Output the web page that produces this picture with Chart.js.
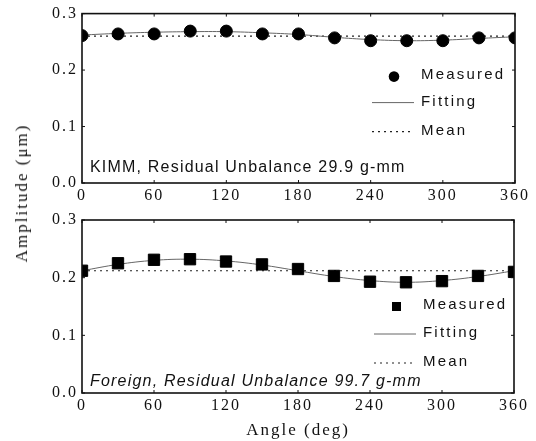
<!DOCTYPE html>
<html>
<head>
<meta charset="utf-8">
<script src="https://cdn.jsdelivr.net/npm/chart.js@4"></script>
<style>
  body { margin: 0; background: #fff; }
  #wrap { position: relative; width: 536px; height: 441px; overflow: hidden; }
  #top { position: absolute; left: 0; top: 0; }
  #bot { position: absolute; left: 0; top: 205px; }
  #ytitle {
    position: absolute; left: 22px; top: 193px;
    transform: translate(-50%, -50%) rotate(-90deg);
    font: 17px "Liberation Serif", serif; letter-spacing: 2px;
    white-space: nowrap; color: #111;
  }
</style>
</head>
<body>
<div id="wrap">
  <canvas id="top" width="536" height="210"></canvas>
  <canvas id="bot" width="536" height="236"></canvas>
  <div id="ytitle">Amplitude (μm)</div>
</div>
<script>
// angles (deg)
const angles = [0, 30, 60, 90, 120, 150, 180, 210, 240, 270, 300, 330, 360];
const xTicks = [0, 60, 120, 180, 240, 300, 360];
const yTicks = [0.0, 0.1, 0.2, 0.3];

// KIMM rotor
const kimmMeasured = [0.261, 0.264, 0.264, 0.269, 0.269, 0.264, 0.264, 0.257, 0.252, 0.252, 0.252, 0.257, 0.257];
const kimmFitting  = [0.262, 0.265, 0.267, 0.268, 0.268, 0.266, 0.263, 0.258, 0.254, 0.252, 0.253, 0.256, 0.259];
const kimmMean = 0.260;

// Foreign rotor
const forMeasured = [0.212, 0.225, 0.231, 0.232, 0.228, 0.223, 0.215, 0.203, 0.193, 0.192, 0.194, 0.203, 0.210];
const forFitting  = [0.212, 0.223, 0.230, 0.232, 0.229, 0.222, 0.212, 0.202, 0.195, 0.192, 0.195, 0.202, 0.212];
const forMean = 0.212;

const legendLabels = ['Measured', 'Fitting', 'Mean'];
const sans = '"Liberation Sans", Arial, sans-serif';
const serif = '"Liberation Serif", "Times New Roman", serif';

// caja, marcas internas, leyenda y texto del rotor
const framePlugin = {
  id: 'frame',
  beforeDraw(chart) {
    // etiquetas de ejes espaciadas como en el original
    chart.ctx.letterSpacing = '2px';
  },
  afterDraw(chart, args, opts) {
    const { ctx, chartArea: a, scales } = chart;
    ctx.save();
    ctx.strokeStyle = '#111';
    ctx.lineWidth = 1.6;
    ctx.strokeRect(a.left, a.top, a.right - a.left, a.bottom - a.top);
    ctx.lineWidth = 1;
    xTicks.forEach(v => {
      const x = scales.x.getPixelForValue(v);
      ctx.beginPath();
      ctx.moveTo(x, a.bottom); ctx.lineTo(x, a.bottom - 3);
      ctx.moveTo(x, a.top); ctx.lineTo(x, a.top + 3);
      ctx.stroke();
    });
    yTicks.forEach(v => {
      const y = scales.y.getPixelForValue(v);
      ctx.beginPath();
      ctx.moveTo(a.left, y); ctx.lineTo(a.left + 3, y);
      ctx.moveTo(a.right, y); ctx.lineTo(a.right - 3, y);
      ctx.stroke();
    });

    // leyenda
    const ds = chart.data.datasets;
    ctx.font = '15px ' + sans;
    ctx.letterSpacing = '2.2px';
    ctx.fillStyle = '#111';
    ctx.textAlign = 'left';
    ctx.textBaseline = 'middle';
    const tx = a.left + opts.legendX;
    opts.legendY.forEach((dy, i) => {
      const y = a.top + dy;
      ctx.fillText(legendLabels[i], tx, y);
      if (i === 0) {
        ctx.fillStyle = '#000';
        ctx.beginPath();
        if (ds[0].pointStyle === 'rect') {
          ctx.fillRect(tx - 31, y - 3, 9, 9);
        } else {
          ctx.arc(tx - 27, y + 2, 5.3, 0, Math.PI * 2);
          ctx.fill();
        }
        ctx.fillStyle = '#111';
      } else {
        const d = ds[i];
        ctx.strokeStyle = d.borderColor;
        ctx.lineWidth = d.borderWidth;
        ctx.setLineDash(d.borderDash || []);
        ctx.beginPath();
        ctx.moveTo(tx - 49, y + 1); ctx.lineTo(tx - 7, y + 1);
        ctx.stroke();
        ctx.setLineDash([]);
      }
    });

    // texto del rotor
    ctx.font = opts.noteFont;
    ctx.letterSpacing = '1.2px';
    ctx.fillText(opts.note, a.left + 8, a.bottom - opts.noteDy);
    ctx.restore();
  }
};

function makeChart(id, measured, fitting, mean, cfg) {
  return new Chart(document.getElementById(id), {
    type: 'line',
    data: {
      datasets: [
        {
          label: 'Measured',
          data: angles.map((a, i) => ({ x: a, y: measured[i] })),
          showLine: false,
          pointStyle: cfg.pointStyle,
          pointRadius: cfg.pointRadius,
          pointBackgroundColor: '#000',
          pointBorderColor: '#000',
          order: 0
        },
        {
          label: 'Fitting',
          data: angles.map((a, i) => ({ x: a, y: fitting[i] })),
          borderColor: '#666',
          borderWidth: 1,
          tension: 0.4,
          pointRadius: 0,
          order: 1
        },
        {
          label: 'Mean',
          data: [{ x: 0, y: mean }, { x: 360, y: mean }],
          borderColor: '#222',
          borderWidth: 1.2,
          borderDash: [2, 4],
          pointRadius: 0,
          order: 2
        }
      ]
    },
    options: {
      responsive: false,
      animation: false,
      events: [],
      layout: { padding: { top: cfg.padTop, right: cfg.padRight, left: 0, bottom: 0 } },
      plugins: {
        legend: { display: false },
        tooltip: { enabled: false },
        frame: cfg.frame
      },
      scales: {
        x: {
          type: 'linear',
          min: 0, max: 360,
          afterBuildTicks: s => { s.ticks = xTicks.map(v => ({ value: v })); },
          afterFit: s => { s.height = cfg.xHeight; },
          grid: { display: false, drawTicks: false },
          border: { display: false },
          ticks: {
            color: '#111',
            font: { family: serif, size: 16 },
            padding: 3,
            maxRotation: 0
          },
          title: {
            display: cfg.xTitle,
            text: 'Angle (deg)',
            color: '#111',
            font: { family: serif, size: 17 },
            padding: { top: 0, bottom: 0 }
          }
        },
        y: {
          min: 0, max: 0.3,
          afterBuildTicks: s => { s.ticks = yTicks.map(v => ({ value: v })); },
          afterFit: s => { s.width = 82; },
          grid: { display: false, drawTicks: false },
          border: { display: false },
          ticks: {
            color: '#111',
            font: { family: serif, size: 16 },
            padding: 4,
            callback: v => v.toFixed(1)
          }
        }
      }
    },
    plugins: [framePlugin]
  });
}

makeChart('top', kimmMeasured, kimmFitting, kimmMean, {
  pointStyle: 'circle', pointRadius: 6,
  padTop: 13, padRight: 21, xHeight: 27, xTitle: false,
  frame: {
    legendX: 339, legendY: [61, 88, 117],
    note: 'KIMM, Residual Unbalance 29.9 g-mm',
    noteFont: '16px ' + sans, noteDy: 15
  }
});

makeChart('bot', forMeasured, forFitting, forMean, {
  pointStyle: 'rect', pointRadius: 8,
  padTop: 15, padRight: 22, xHeight: 48, xTitle: true,
  frame: {
    legendX: 341, legendY: [85, 113, 142],
    note: 'Foreign, Residual Unbalance 99.7 g-mm',
    noteFont: 'italic 16px ' + sans, noteDy: 11
  }
});
</script>
</body>
</html>
